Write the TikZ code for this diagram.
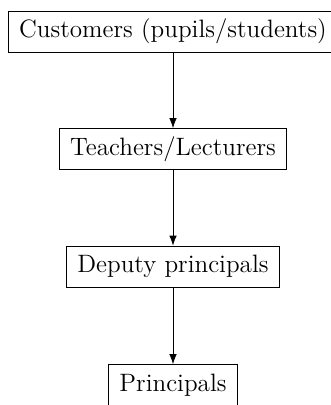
\documentclass[tikz,border=0pt]{standalone}
\usepackage{tikz}
\usetikzlibrary{arrows.meta,positioning}

\tikzset{
  rolebox/.style={draw, thin, minimum height=0.82cm, inner xsep=0.22cm, font=\fontsize{14.3}{16}\selectfont},
  chain/.style={thin, -{Latex[length=2mm, width=1.5mm]}}
}

\begin{document}
\begin{tikzpicture}
    \useasboundingbox (0, 0) rectangle (6.6, 8.1);

    \node[rolebox] (customers) at (3.46, 7.47) {Customers (pupils/students)};
    \node[rolebox] (teachers) at (3.46, 5.12) {Teachers/Lecturers};
    \node[rolebox] (deputies) at (3.46, 2.77) {Deputy principals};
    \node[rolebox] (principals) at (3.46, 0.40) {Principals};

    \draw[chain] (customers) -- (teachers);
    \draw[chain] (teachers) -- (deputies);
    \draw[chain] (deputies) -- (principals);
  \end{tikzpicture}
\end{document}
